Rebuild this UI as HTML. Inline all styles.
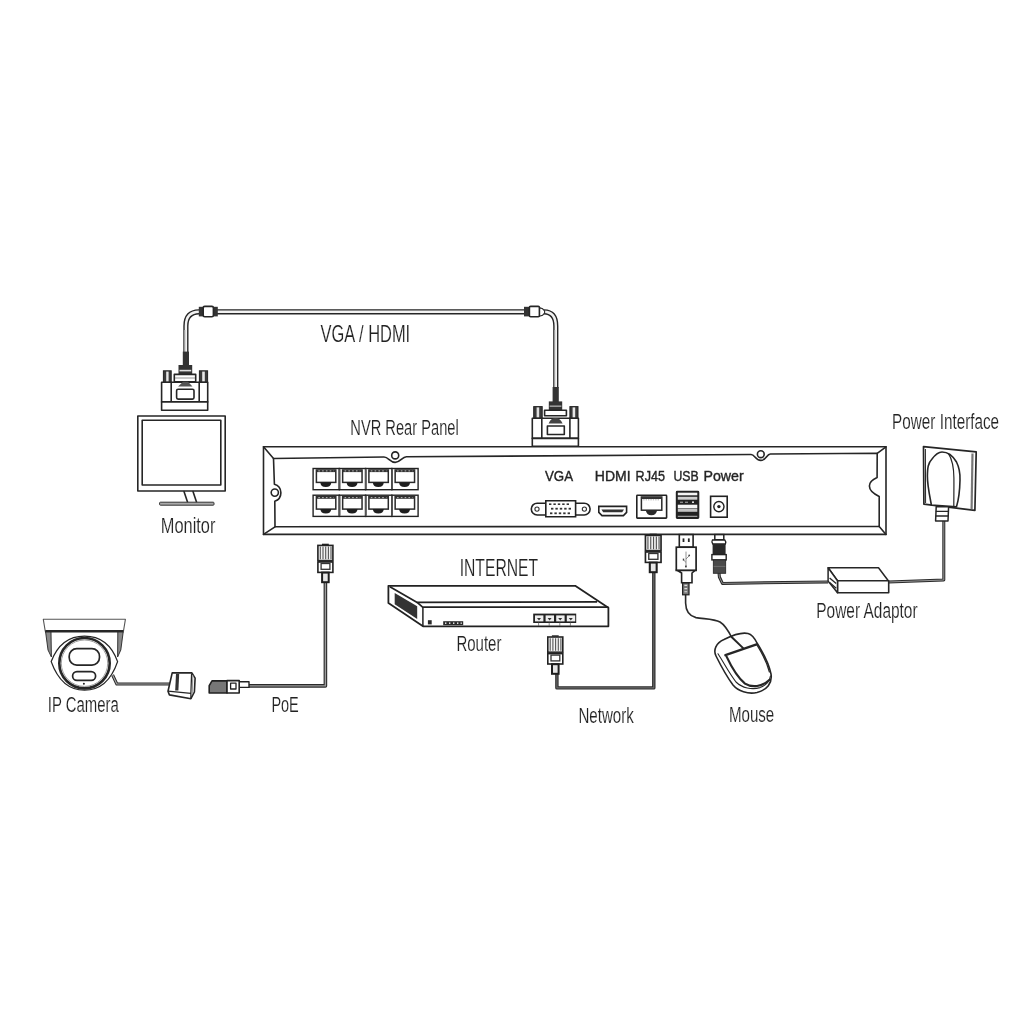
<!DOCTYPE html>
<html><head><meta charset="utf-8"><style>
html,body{margin:0;padding:0;background:#fff;width:1024px;height:1024px;overflow:hidden}
svg{display:block;filter:grayscale(1)}
.t{font-family:"Liberation Sans",sans-serif;fill:#222}
.tl{stroke:#fff;stroke-width:0.18}
.s{fill:none;stroke:#262626;stroke-width:1.6;stroke-linejoin:round;stroke-linecap:round}
.w{fill:#fff;stroke:#262626;stroke-width:1.6;stroke-linejoin:round}
.d{fill:#333;stroke:none}
</style></head><body>
<svg width="1024" height="1024" viewBox="0 0 1024 1024">
<rect width="1024" height="1024" fill="#fff"/>

<!-- ============ VGA cable ============ -->
<g id="vgacable">
  <path d="M185.9,352 L185.9,326 Q185.9,312 199,311.8 L524,311.8 M544,311.8 Q555.8,312 555.8,326 L555.8,388" fill="none" stroke="#262626" stroke-width="5.2"/>
  <path d="M185.9,352 L185.9,326 Q185.9,312 199,311.8 L524,311.8 M544,311.8 Q555.8,312 555.8,326 L555.8,388" fill="none" stroke="#f2f2f2" stroke-width="2.4"/>
  <path d="M184.6,330 L184.6,352" stroke="#9a9a9a" stroke-width="1.4"/>
  <path d="M554.6,330 L554.6,388" stroke="#9a9a9a" stroke-width="1.2"/>
  <!-- ferrites -->
  <rect x="198.8" y="306.8" width="4.4" height="9.6" class="d"/>
  <rect x="213.4" y="306.8" width="4.4" height="9.6" class="d"/>
  <rect x="203.2" y="306.4" width="10.2" height="10.4" rx="1.5" class="w" stroke-width="1.2"/>
  <rect x="524" y="306.8" width="5.4" height="9.6" class="d"/>
  <path d="M539.2,307.6 L542.6,308.8 L544.6,311 L544.6,313 L542.6,315.2 L539.2,316.2 Z" fill="#fff" stroke="#262626" stroke-width="1.1"/>
  <rect x="529.4" y="306.4" width="10" height="10.4" rx="1.2" class="w" stroke-width="1.2"/>
  <!-- dark cable ends -->
  <rect x="182.8" y="351.6" width="6.2" height="14" class="d"/>
  <rect x="552.6" y="387" width="6.2" height="15" class="d"/>
</g>

<!-- ============ VGA connector (monitor) ============ -->
<g id="vgaconn1">
  <rect x="178.5" y="365" width="13.7" height="9.2" class="d"/>
  <rect x="179.5" y="369.8" width="11.7" height="1.6" fill="#ddd"/>
  <rect x="174.3" y="374.4" width="21.4" height="7.4" class="w" stroke-width="1.3"/>
  <line x1="175" y1="378" x2="195" y2="378" stroke="#777" stroke-width="0.8"/>
  <rect x="163.4" y="370.8" width="7.8" height="11.4" fill="#3a3a3a" stroke="#222" stroke-width="1"/>
  <rect x="166.2" y="371.6" width="2.4" height="10" fill="#e8e8e8"/>
  <rect x="199.4" y="370.8" width="8.2" height="11.4" fill="#3a3a3a" stroke="#222" stroke-width="1"/>
  <rect x="202.2" y="371.6" width="2.6" height="10" fill="#e8e8e8"/>
  <rect x="161.6" y="382.2" width="46.1" height="19.7" class="w" stroke-width="1.4"/>
  <line x1="171.2" y1="382.2" x2="171.2" y2="401.9" class="s" stroke-width="1.3"/>
  <line x1="199.2" y1="382.2" x2="199.2" y2="401.9" class="s" stroke-width="1.3"/>
  <path d="M178.1,386.6 L183,381.8 L188,381.8 L192.5,386.6 Z" fill="#555"/>
  <rect x="176.6" y="389.2" width="17.4" height="9.9" rx="1.5" class="w" stroke-width="1.3" stroke="#555"/>
  <rect x="161.6" y="401.9" width="46.1" height="8.4" class="w" stroke-width="1.4"/>
</g>

<!-- ============ VGA connector (NVR) ============ -->
<g id="vgaconn2">
  <rect x="548.8" y="401.4" width="13.4" height="9.2" class="d"/>
  <rect x="549.6" y="405.4" width="11.8" height="1.6" fill="#999"/>
  <rect x="544.6" y="410.2" width="21.8" height="5.6" class="w" stroke-width="1.3"/>
  <rect x="533.7" y="406.6" width="8.5" height="11.8" fill="#3a3a3a" stroke="#222" stroke-width="1"/>
  <rect x="536.6" y="407.4" width="2.6" height="10.2" fill="#e0e0e0"/>
  <rect x="569.9" y="406.6" width="8.1" height="11.8" fill="#3a3a3a" stroke="#222" stroke-width="1"/>
  <rect x="572.6" y="407.4" width="2.6" height="10.2" fill="#e8e8e8"/>
  <rect x="532.3" y="418.3" width="46.1" height="20.1" class="w" stroke-width="1.4"/>
  <line x1="541.8" y1="418.3" x2="541.8" y2="438.4" class="s" stroke-width="1.3"/>
  <line x1="569.9" y1="418.3" x2="569.9" y2="438.4" class="s" stroke-width="1.3"/>
  <path d="M548.6,423.4 Q551,418 555.5,418 Q560,418 562.6,423.4 Z" fill="#444"/>
  <rect x="547.4" y="426" width="16.9" height="8.5" class="w" stroke-width="1.3"/>
  <rect x="532.3" y="438.4" width="46.1" height="8" class="w" stroke-width="1.4"/>
</g>

<!-- ============ Monitor ============ -->
<g id="monitor">
  <rect x="137.8" y="416" width="87.4" height="75" class="w" stroke-width="1.7"/>
  <rect x="142.2" y="420.2" width="78.6" height="64.8" class="s" stroke-width="1.7"/>
  <path d="M184,491.5 L187.5,502 M193,491.5 L196.5,502" class="s" stroke-width="1.4"/>
  <rect x="159.6" y="502.2" width="54.4" height="3" rx="0.8" fill="#aaa" stroke="#333" stroke-width="1"/>
</g>

<!-- ============ NVR panel ============ -->
<g id="nvr">
  <path d="M263.5,446.8 L886,446.8 L886,534.4 L263.5,534.4 Z" class="w" stroke-width="1.8"/>
  <path d="M273.5,458.5 L384,457 C388.5,457 390,462.4 395.2,462.4 C400.4,462.4 402,456.9 406.4,456.8 L751,454.5 C755,454.4 755,460.4 760.8,460.4 C766.6,460.4 766.4,454.1 770.4,454 L877.2,453.3 L877.1,477.6 C873,479.5 869.4,482 869.4,486 C869.4,490 874,494 879.2,496.4 L879.2,526.4 L275,526.8 L274.8,501.2 A8.9,8.9 0 0 0 274.4,484.2 Z" class="s" stroke-width="1.6"/>
  <path d="M263.5,446.8 L273.5,458.5 M263.5,534.4 L275,526.8 M886,446.8 L877.2,453.3 M886,534.4 L879.2,526.4" class="s" stroke-width="1.5"/>
  <circle cx="395.2" cy="455.4" r="3.5" class="s" stroke-width="1.4"/>
  <circle cx="760.8" cy="454.2" r="3.4" class="s" stroke-width="1.4"/>
  <circle cx="274.8" cy="492.6" r="3.6" class="s" stroke-width="1.4"/>
</g>


<!-- ============ 8 LAN ports ============ -->
<defs>
  <g id="lan">
    <rect x="0" y="0" width="26.25" height="21.2" fill="#fff" stroke="#222" stroke-width="1.4"/>
    <rect x="3.3" y="1.5" width="19.4" height="12.4" fill="#fff" stroke="#2a2a2a" stroke-width="1.5"/>
    <rect x="3.3" y="1.2" width="19.4" height="2.4" fill="#333"/>
    <path d="M7.2,13.9 L18.2,13.9 Q17.8,18.4 12.7,18.4 Q7.6,18.4 7.2,13.9 Z" fill="#1e1e1e"/>
    <path d="M5.2,2.4 H20.8" stroke="#ddd" stroke-width="0.8" stroke-dasharray="1.6,2.2"/>
  </g>
</defs>
<g id="lanports">
  <use href="#lan" x="313.1" y="468.5"/>
  <use href="#lan" x="339.35" y="468.5"/>
  <use href="#lan" x="365.6" y="468.5"/>
  <use href="#lan" x="391.85" y="468.5"/>
  <use href="#lan" x="313.1" y="495.2"/>
  <use href="#lan" x="339.35" y="495.2"/>
  <use href="#lan" x="365.6" y="495.2"/>
  <use href="#lan" x="391.85" y="495.2"/>
  <path d="M339.6,469.2 V489 M365.85,469.2 V489 M392.1,469.2 V489 M339.6,496 V515.7 M365.85,496 V515.7 M392.1,496 V515.7" stroke="#555" stroke-width="1.8"/>
</g>

<!-- ============ VGA port ============ -->
<g id="vgaport">
  <path d="M537.2,503.2 L584.2,503.2 A5.9,5.9 0 0 1 584.2,515 L537.2,515 A5.9,5.9 0 0 1 537.2,503.2 Z" fill="#fff" stroke="#222" stroke-width="1.6"/>
  <circle cx="537" cy="509.1" r="2.1" fill="none" stroke="#333" stroke-width="1.1"/>
  <circle cx="584.4" cy="509.1" r="2.1" fill="none" stroke="#333" stroke-width="1.1"/>
  <path d="M545.8,500.8 L575.6,500.8 L575.6,516.8 L545.8,516.8 Z" fill="#fff" stroke="#222" stroke-width="1.6"/>
  <g fill="#333">
    <rect x="549" y="503.4" width="2.4" height="1.6"/><rect x="553.4" y="503.4" width="2.4" height="1.6"/><rect x="557.8" y="503.4" width="2.4" height="1.6"/><rect x="562.2" y="503.4" width="2.4" height="1.6"/><rect x="566.6" y="503.4" width="2.4" height="1.6"/>
    <rect x="551" y="507.8" width="2.4" height="1.8"/><rect x="555.4" y="507.8" width="2.4" height="1.8"/><rect x="559.8" y="507.8" width="2.4" height="1.8"/><rect x="564.2" y="507.8" width="2.4" height="1.8"/><rect x="568.6" y="507.8" width="2.4" height="1.8"/>
    <rect x="550" y="512.4" width="2.4" height="1.8"/><rect x="554.4" y="512.4" width="2.4" height="1.8"/><rect x="558.8" y="512.4" width="2.4" height="1.8"/><rect x="563.2" y="512.4" width="2.4" height="1.8"/><rect x="567.6" y="512.4" width="2.4" height="1.8"/>
  </g>
</g>

<!-- ============ HDMI port ============ -->
<g id="hdmiport">
  <path d="M598.8,506.4 L626.6,506.4 L626.6,512.4 L623.4,515.6 L602,515.6 L598.8,512.4 Z" fill="#fff" stroke="#222" stroke-width="1.6"/>
  <path d="M601.4,509.6 L624,509.6 L622.2,512.2 L603.2,512.2 Z" fill="#333"/>
</g>

<!-- ============ RJ45 port ============ -->
<g id="rjport">
  <rect x="636.8" y="495.3" width="29.8" height="22.8" rx="0.6" fill="#fff" stroke="#222" stroke-width="1.6"/>
  <rect x="641.4" y="497" width="20.4" height="13.2" fill="#fff" stroke="#2a2a2a" stroke-width="1.5"/>
  <rect x="641.4" y="496.8" width="20.4" height="2.2" fill="#333"/>
  <path d="M643.2,499.8 H660" stroke="#999" stroke-width="0.8" stroke-dasharray="1.4,1"/>
  <path d="M645.8,510.2 L657.1,510.2 Q656.4,515.2 651.4,515.2 Q646.4,515.2 645.8,510.2 Z" fill="#2a2a2a"/>
</g>

<!-- ============ USB port ============ -->
<g id="usbport">
  <rect x="676.4" y="491.4" width="22.3" height="26.9" fill="#222" stroke="#222" stroke-width="1.2" rx="0.8"/>
  <rect x="677.8" y="492.7" width="19.5" height="2.6" fill="#f4f4f4"/>
  <rect x="677.8" y="496.8" width="19.5" height="2.9" fill="#cfcfcf"/>
  <rect x="677.8" y="504.7" width="19.5" height="3.5" fill="#f6f6f6"/>
  <rect x="677.8" y="508.6" width="19.5" height="3.2" fill="#c4c4c4"/>
  <rect x="677.8" y="515.8" width="19.5" height="1" fill="#bbb"/>
  <rect x="680" y="501.6" width="3" height="1.4" fill="#888"/><rect x="685" y="501.6" width="3" height="1.4" fill="#888"/><rect x="692" y="501.4" width="2" height="1.6" fill="#ddd"/>
</g>

<!-- ============ Power port ============ -->
<g id="pwrport">
  <rect x="710.6" y="496.3" width="16.6" height="20.9" fill="#fff" stroke="#222" stroke-width="1.6"/>
  <circle cx="718.9" cy="506.6" r="5.1" fill="none" stroke="#222" stroke-width="1.4"/>
  <circle cx="718.9" cy="506.6" r="1.7" fill="#222"/>
</g>


<!-- ============ cables (lower) ============ -->
<g id="cables" fill="none" stroke-linejoin="round">
  <!-- PoE cable -->
  <path d="M325.4,582 L325.4,685.9 L249,685.9" stroke="#2a2a2a" stroke-width="3.6"/>
  <path d="M325.4,582 L325.4,685.9 L249,685.9" stroke="#9c9c9c" stroke-width="1.4"/>
  <!-- camera cable -->
  <path d="M112.6,675 L116.8,684 L170,684" stroke="#2a2a2a" stroke-width="3"/>
  <path d="M112.6,675 L116.8,684 L170,684" stroke="#a8a8a8" stroke-width="1.1"/>
  <!-- network cable -->
  <path d="M653.8,572 L653.8,687.9 L556.9,687.9 L556.9,673" stroke="#2a2a2a" stroke-width="3.4"/>
  <path d="M653.8,572 L653.8,687.9 L556.9,687.9 L556.9,673" stroke="#6a6a6a" stroke-width="1.2"/>
  <!-- power cable -->
  <path d="M719,573 L719.4,577 L722.4,583.4 L828.2,581.9" stroke="#2a2a2a" stroke-width="3"/>
  <path d="M719,573 L719.4,577 L722.4,583.4 L828.2,581.9" stroke="#8a8a8a" stroke-width="1"/>
  <!-- adaptor to wall -->
  <path d="M888.5,582 L943.8,580 L943.8,520" stroke="#2a2a2a" stroke-width="3"/>
  <path d="M888.5,582 L943.8,580 L943.8,520" stroke="#999" stroke-width="1"/>
  <!-- mouse cable -->
  <path d="M685.6,594 L685.6,603 C685.8,611 689,616 696,617.6 C703,619 714,618.6 720,622 C725,625 729,632 732,638" stroke="#2a2a2a" stroke-width="1.6"/>
</g>

<!-- ============ RJ45 plug symbol ============ -->
<defs>
  <g id="rjplug">
    <rect x="4.9" y="-0.9" width="6.8" height="1.4" fill="#222"/>
    <rect x="0.8" y="0.8" width="15" height="15.2" fill="#f4f4f4" stroke="#222" stroke-width="1.6"/>
    <path d="M3.2,2 V14.6 M5.9,2 V14.6 M8.6,2 V14.6 M11.3,2 V14.6 M13.9,2 V14.6" stroke="#555" stroke-width="1.1"/>
    <rect x="0.8" y="16" width="15" height="1.4" fill="#333"/>
    <rect x="0.8" y="17.4" width="15" height="10.4" fill="#fff" stroke="#222" stroke-width="1.6"/>
    <rect x="4" y="18.9" width="8.8" height="5.8" fill="#fff" stroke="#333" stroke-width="1.3"/>
    <rect x="5" y="28" width="6.6" height="9.6" fill="#e6e6e6" stroke="#1e1e1e" stroke-width="2"/>
  </g>
</defs>
<use href="#rjplug" x="317.1" y="544.6"/>
<use href="#rjplug" x="547" y="636.2"/>
<g transform="translate(644.6,534.6) scale(1.04,1)"><use href="#rjplug"/></g>

<!-- ============ USB plug ============ -->
<g id="usbplug">
  <rect x="682.6" y="582.6" width="6.4" height="12.2" fill="#777" stroke="#222" stroke-width="1.2"/>
  <path d="M684.4,585.4 H687.2 M684.4,588.6 H687.2 M684.4,591.8 H687.2" stroke="#ddd" stroke-width="1.1"/>
  <rect x="679.3" y="534.6" width="13.8" height="12.6" fill="#fff" stroke="#222" stroke-width="1.6"/>
  <rect x="682.6" y="538.4" width="1.8" height="3.6" fill="#222"/><rect x="687.9" y="538.4" width="1.8" height="3.6" fill="#222"/>
  <rect x="676.3" y="547.2" width="19.8" height="23.2" fill="#fff" stroke="#222" stroke-width="1.7"/>
  <path d="M677.6,570.5 L681.6,573 L681.6,582.7 L692,582.7 L692,573 L695,570.5 Z" fill="#fff" stroke="#222" stroke-width="1.6"/>
  <path d="M686,551.6 V566 M686,559 L689,556 M686,562.4 L683.6,560" stroke="#777" stroke-width="0.8" fill="none"/>
  <circle cx="689.2" cy="555.4" r="0.9" fill="#444"/><rect x="682.8" y="558.6" width="1.4" height="2" fill="#444"/><rect x="685" y="565.6" width="1.8" height="1.8" fill="#444"/>
</g>

<!-- ============ Power plug ============ -->
<g id="pwrplug">
  <rect x="714.8" y="534.6" width="9" height="5.2" fill="#fff" stroke="#222" stroke-width="1.5"/>
  <path d="M712.4,540 L724.8,540 Q726.4,541.8 725.4,544 L712.8,544 Q711.2,541.8 712.4,540 Z" fill="#fff" stroke="#222" stroke-width="1.3"/>
  <rect x="712.6" y="544" width="13" height="10.6" fill="#2a2a2a"/>
  <rect x="711.9" y="554.6" width="14.3" height="5.3" fill="#fff" stroke="#222" stroke-width="1.4"/>
  <rect x="713.3" y="559.9" width="12.4" height="13.4" fill="#4a4a4a" stroke="#222" stroke-width="0.8"/>
  <line x1="713.6" y1="566.4" x2="725.4" y2="566.4" stroke="#777" stroke-width="0.8"/>
</g>

<!-- ============ Power adaptor ============ -->
<g id="adaptor" stroke="#262626" stroke-linejoin="round">
  <path d="M828.1,567.8 L878.5,567.8 L888.3,580.7 L837.5,580.7 Z" fill="#fff" stroke-width="1.5"/>
  <path d="M837.5,580.7 L888.7,580.7 L888.7,592.8 L837.5,592.8 Z" fill="#fff" stroke-width="1.6"/>
  <path d="M828.1,567.8 L837.5,580.7 L837.5,592.8 L828.1,581.1 Z" fill="#fff" stroke-width="1.5"/>
  <path d="M829.6,578 L836.2,583.6 M829.6,582.6 L836.2,588.2" stroke-width="1.3" fill="none"/>
</g>

<!-- ============ Wall socket ============ -->
<g id="wall" stroke="#262626" stroke-linejoin="round" fill="none">
  <path d="M923.5,446.6 L976.2,451.9 L974.9,510.4 L923.9,504.2 Z" fill="#fff" stroke-width="1.7"/>
  <path d="M925.4,449 L925.6,503" stroke-width="1"/>
  <path d="M972.5,453.6 L971.6,509.2" stroke="#777" stroke-width="2.2"/>
  <path d="M931.4,505 C929.5,495 927.3,485 927.4,476 C927.5,468 928,463 932,459 C935,455 938,452 942,452 C948,452 953,456 956.5,462 C959,467 960.2,474 960,480 C959.8,490 958.5,500 956.5,506.8 Z" fill="#fff" stroke-width="1.6"/>
  <path d="M948.5,453.6 C952,459 953.8,468 953.9,478 C954,490 953.8,498 953.8,506" stroke-width="1.2"/>
  <path d="M936.2,506.8 L948.6,506.8 L948,521 L935.6,521 Z" fill="#fff" stroke-width="1.5"/>
  <path d="M935.8,511.4 H948.4 M935.7,516 H948.2" stroke-width="1.3"/>
</g>

<!-- ============ Mouse ============ -->
<g id="mouse" stroke="#262626" stroke-linejoin="round" stroke-linecap="round">
  <path d="M716,656 C713,650 716,643 724,639.5 C731,636 742,632 748,633.5 C752,634.5 755,639 757,643 C762,651 769,664 771,674 C772.5,683 767,690 757,692.5 C748,694.5 738,691 733,685 C727,677 722,668 716,656 Z" fill="#fff" stroke-width="1.6"/>
  <path d="M718,653.8 C724,663 729,673 736,682 C742,688 752,690 760,687.6 C766,685.5 769.5,682 770.4,676" fill="none" stroke-width="1.1"/>
  <path d="M726.6,656.6 C731,666 737,677 745,683.6 C752,688 762,686.8 769.6,679.8" fill="none" stroke-width="2.2"/>
  <path d="M725.4,655.2 L756.6,644.4" fill="none" stroke-width="2.4"/>
  <path d="M731.6,637 L743.4,648.4" fill="none" stroke-width="2"/>
  <path d="M756.6,644.4 C762,653 767,663 769.4,672" fill="none" stroke-width="1.2"/>
</g>

<!-- ============ Router ============ -->
<g id="router" stroke="#222" stroke-linejoin="round">
  <path d="M388.4,585.8 L575.2,585.8 L608.4,607.7 L608.4,626.3 L423,626.3 L388.4,602.9 Z" fill="#fff" stroke-width="1.8"/>
  <path d="M389.9,586.7 L417.2,602.4 L597.1,601.9" fill="none" stroke-width="1.7"/>
  <path d="M417.2,602.4 L422.6,607.2 L608.4,607.2" fill="none" stroke-width="1.7"/>
  <path d="M422.9,607.2 L422.9,626.3" fill="none" stroke-width="1.5"/>
  <path d="M394.7,593.1 L417.2,606.3 L417.2,619 L394.7,604.3 Z" fill="#333" stroke="none"/>
  <rect x="427.9" y="620.2" width="3.8" height="4.2" fill="#2a2a2a" stroke="none"/>
  <g fill="#2a2a2a" stroke="none"><rect x="443.2" y="621.2" width="20" height="4"/></g>
  <g fill="#ddd" stroke="none"><rect x="445" y="622.4" width="1.4" height="1.6"/><rect x="449" y="622.4" width="1.4" height="1.6"/><rect x="453" y="622.4" width="1.4" height="1.6"/><rect x="457" y="622.4" width="1.4" height="1.6"/><rect x="460.6" y="622.4" width="1.2" height="1.6"/></g>
  <rect x="533.2" y="613.6" width="43" height="9.4" fill="#222" stroke="none"/>
  <g fill="#eee" stroke="none">
    <rect x="535" y="615.4" width="8.4" height="6"/><rect x="545.6" y="615.4" width="8.4" height="6"/><rect x="556.2" y="615.4" width="8.4" height="6"/><rect x="566.8" y="615.4" width="8.4" height="6"/>
  </g>
  <g fill="#333" stroke="none">
    <path d="M537,618 h4 l-2,2.6z M547.6,618 h4 l-2,2.6z M558.2,618 h4 l-2,2.6z M568.8,618 h4 l-2,2.6z"/>
  </g>
  <path d="M538.6,622.4 V626 M549.2,622.4 V626 M559.8,622.4 V626 M570.4,622.4 V626" stroke="#555" stroke-width="0.7" fill="none"/>
</g>

<!-- ============ Camera ============ -->
<g id="camera" stroke="#262626" stroke-linejoin="round">
  <path d="M43.3,619.3 L125.4,619.3 L123.4,631.5 L45.3,631.5 Z" fill="#fff" stroke="#555" stroke-width="1.1"/>
  <line x1="45.3" y1="631.2" x2="123.4" y2="631.2" stroke-width="2.4"/>
  <path d="M45.6,632 L51,632 L51.4,657 L48,650 Z" fill="#8a8a8a" stroke-width="0.9"/>
  <path d="M117.8,632 L123.2,632 L120.8,650 L117.6,657 Z" fill="#8a8a8a" stroke-width="0.9"/>
  <path d="M84.5,636.2 C104,636.2 113,649 117.6,661.6 C113,675 104,690.2 84.5,690.2 C65,690.2 56,675 51.2,661.6 C56,649 65,636.2 84.5,636.2 Z" fill="#fff" stroke-width="1.3"/>
  <circle cx="84.5" cy="663.2" r="25.2" fill="#fff" stroke-width="2.6"/>
  <circle cx="84.5" cy="663.2" r="23.2" fill="none" stroke="#888" stroke-width="0.8"/>
  <rect x="69.2" y="648.6" width="30.3" height="16.6" rx="7.6" fill="#fff" stroke-width="1.7"/>
  <rect x="72.6" y="671.6" width="23" height="8.8" rx="4.4" fill="#fff" stroke-width="1.7"/>
  <circle cx="83.9" cy="683.8" r="1" fill="#222" stroke="none"/>
</g>

<!-- ============ Camera connector & PoE plug ============ -->
<g id="camconn" stroke="#262626" stroke-linejoin="round">
  <path d="M172.2,672.9 L191.9,672.9 L195.1,678.1 L194.4,692 L190.9,698.7 L169.4,694.9 L168,691.2 Z" fill="#fff" stroke-width="1.6"/>
  <path d="M168,691.2 L190.9,693.4 L190.9,698.7 M191.6,673.4 L190.9,693.4" fill="none" stroke-width="1.3"/>
  <path d="M192.8,675.6 L192.2,694" fill="none" stroke="#999" stroke-width="1.2"/>
  <path d="M176,673.8 L179.2,673.8 L178.4,690.6 L175.2,690.4 Z" fill="#333" stroke="none"/>
</g>
<g id="poeplug" stroke="#222" stroke-linejoin="round">
  <rect x="239.2" y="681.8" width="9.8" height="5.6" fill="#fff" stroke-width="1.4"/>
  <path d="M209.2,685.6 L212,680.9 L227,680.9 L227,693 L209.2,693 Z" fill="#777" stroke-width="1.6"/>
  <rect x="227" y="680.6" width="12.2" height="12.4" fill="#fff" stroke-width="1.6"/>
  <rect x="230.6" y="683.2" width="5.4" height="5.8" fill="#fff" stroke-width="1.3"/>
</g>

<!-- ============ Labels ============ -->
<g class="t tl">
  <text x="160.8" y="532.6" font-size="22.6" textLength="54.6" lengthAdjust="spacingAndGlyphs">Monitor</text>
  <text x="320.6" y="341.5" font-size="23.6" textLength="89.6" lengthAdjust="spacingAndGlyphs">VGA / HDMI</text>
  <text x="350.3" y="434.9" font-size="21.6" textLength="108.4" lengthAdjust="spacingAndGlyphs">NVR Rear Panel</text>
  <text x="892.1" y="429.3" font-size="21.8" textLength="107" lengthAdjust="spacingAndGlyphs">Power Interface</text>
  <text x="816.3" y="618.4" font-size="21.6" textLength="101.3" lengthAdjust="spacingAndGlyphs">Power Adaptor</text>
  <text x="459.7" y="575.8" font-size="24.2" textLength="78.4" lengthAdjust="spacingAndGlyphs">INTERNET</text>
  <text x="456.4" y="650.6" font-size="22" textLength="45" lengthAdjust="spacingAndGlyphs">Router</text>
  <text x="578.4" y="723.2" font-size="22" textLength="55.4" lengthAdjust="spacingAndGlyphs">Network</text>
  <text x="728.9" y="722.4" font-size="22" textLength="45.4" lengthAdjust="spacingAndGlyphs">Mouse</text>
  <text x="47.8" y="711.8" font-size="22.3" textLength="71" lengthAdjust="spacingAndGlyphs">IP Camera</text>
  <text x="271.4" y="712.4" font-size="22" textLength="27.4" lengthAdjust="spacingAndGlyphs">PoE</text>
</g>
<g class="t" font-size="13.8" stroke="#2b2b2b" stroke-width="0.38">
  <text x="545" y="480.6" textLength="28.1" lengthAdjust="spacingAndGlyphs">VGA</text>
  <text x="594.8" y="480.6" textLength="35.8" lengthAdjust="spacingAndGlyphs">HDMI</text>
  <text x="635.6" y="480.6" textLength="29.4" lengthAdjust="spacingAndGlyphs">RJ45</text>
  <text x="673.5" y="480.6" textLength="25.2" lengthAdjust="spacingAndGlyphs">USB</text>
  <text x="703.5" y="480.6" textLength="40.2" lengthAdjust="spacingAndGlyphs">Power</text>
</g>

</svg>
</body></html>
